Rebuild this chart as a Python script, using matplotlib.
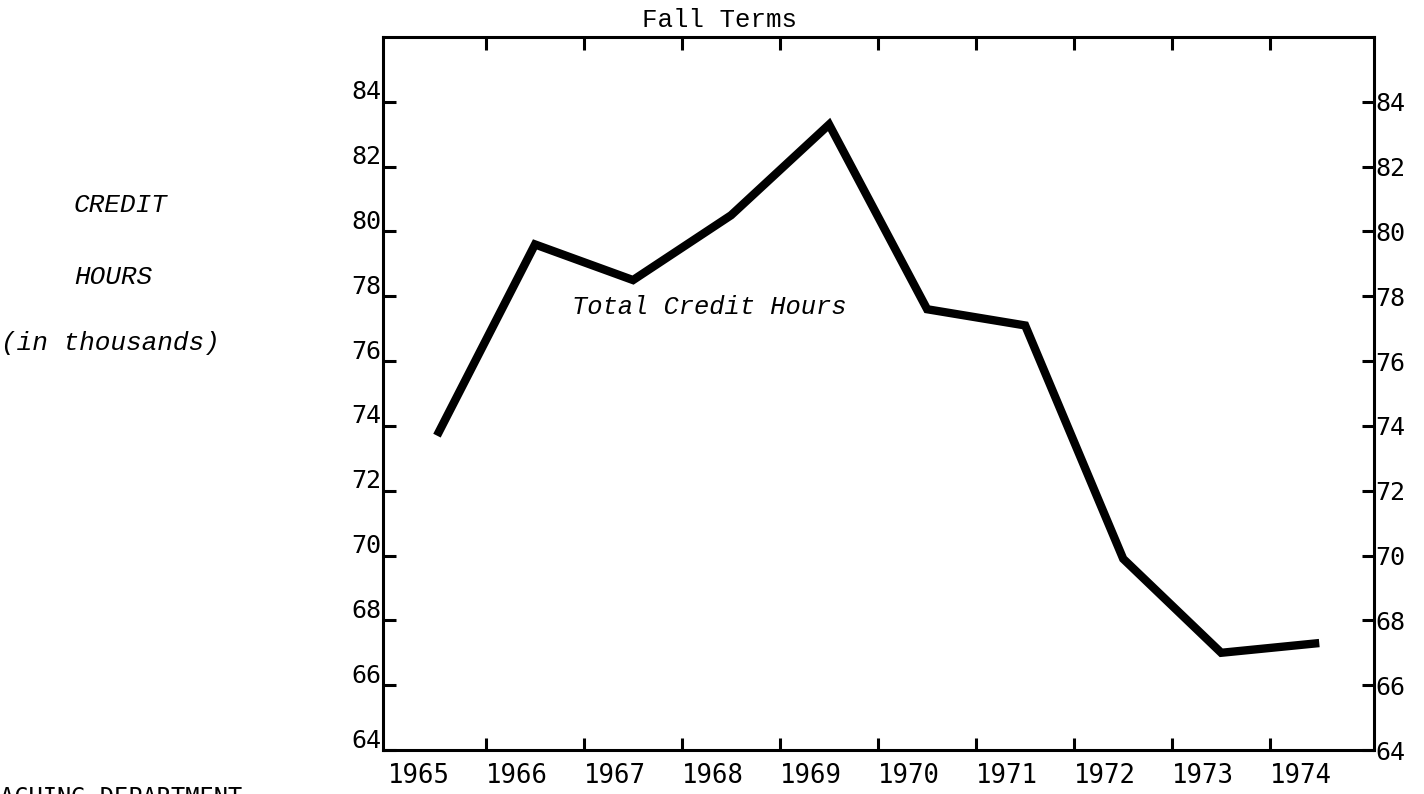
"""Fall-term total credit hours, 1965-1974 (typed chart look)."""

import matplotlib
matplotlib.use("Agg")
import matplotlib.pyplot as plt
import matplotlib.transforms as mtransforms
import numpy as np

years = ["1965", "1966", "1967", "1968", "1969",
         "1970", "1971", "1972", "1973", "1974"]
credit_hours = [73.7, 79.6, 78.5, 80.5, 83.3, 77.6, 77.1, 69.9, 67.0, 67.3]
y_ticks = [64, 66, 68, 70, 72, 74, 76, 78, 80, 82, 84]
y_tick_labels = [str(v) for v in y_ticks]

TYPE = "Liberation Mono"
DIGITS = "DejaVu Sans Mono"

fig = plt.figure(figsize=(14.24, 7.94), dpi=100)
ax = fig.add_axes([0.269, 0.0554, 0.696, 0.898])

x = np.arange(len(years))
ax.plot(x, credit_hours, color="black", linewidth=6,
        solid_joinstyle="miter", solid_capstyle="butt")

ax.set_xlim(-0.55, len(years) - 0.44)
ax.set_ylim(64, 86)
for spine in ax.spines.values():
    spine.set_linewidth(2.2)

# ticks sit between the years, labels under each year
ax.set_xticks(x[:-1] + 0.5)
ax.set_xticklabels([])
ax.tick_params(axis="x", which="major", direction="in", length=9, width=2.2,
               top=True, bottom=True)
ax.set_xticks(x, minor=True)
ax.set_xticklabels(years, minor=True, fontsize=18.5, family=DIGITS)
ax.tick_params(axis="x", which="minor", length=0, pad=9)

ax.set_yticks(y_ticks)
ax.set_yticklabels(y_tick_labels, fontsize=18, family=DIGITS)
ax.tick_params(axis="y", direction="in", length=9, width=2.2,
               left=True, right=True, labelleft=True, labelright=True, pad=1)

shift_left = mtransforms.ScaledTranslation(-18 / 100, 0, fig.dpi_scale_trans)
for lab in ax.xaxis.get_minorticklabels():
    lab.set_transform(lab.get_transform() + shift_left)
shift_up = mtransforms.ScaledTranslation(0, 12 / 100, fig.dpi_scale_trans)
for tick in ax.yaxis.get_major_ticks():
    tick.label1.set_transform(tick.label1.get_transform() + shift_up)

fig.text(720 / 1424, 1 - 20 / 794, "Fall Terms", family=TYPE, fontsize=18.5,
         ha="center", va="center")

for label, ypix in [("CREDIT", 205), ("HOURS", 277)]:
    fig.text(74 / 1424, 1 - ypix / 794, label, family=TYPE, style="italic",
             fontsize=18.8, ha="left", va="center")
fig.text(1 / 1424, 1 - 343 / 794, "(in thousands)", family=TYPE,
         style="italic", fontsize=18.8, ha="left", va="center")

fig.text(572 / 1424, 1 - 307 / 794, "Total Credit Hours", family=TYPE,
         style="italic", fontsize=18.4, ha="left", va="center")

# page text below the chart, cut by the page edge as in the scan
fig.text(0, 1 - 786 / 794, "ACHING DEPARTMENT", family=DIGITS, fontsize=17,
         ha="left", va="top")

fig.savefig("out.png", dpi=100, facecolor="white")
plt.close(fig)
